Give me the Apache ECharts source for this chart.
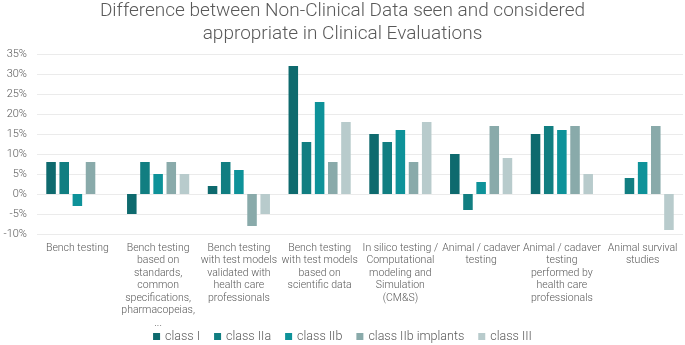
<!DOCTYPE html>
<html>
<head>
<meta charset="utf-8">
<script src="https://cdn.jsdelivr.net/npm/echarts@6/dist/echarts.min.js"></script>
<style>
  html, body { margin: 0; padding: 0; background: #fff; }
  #chart { width: 685px; height: 345px; }
</style>
</head>
<body>
<div id="chart"></div>
<script>
var categories = [
  'Bench testing',
  'Bench testing\nbased on\nstandards,\ncommon\nspecifications,\npharmacopeias,\n...',
  'Bench testing\nwith test models\nvalidated with\nhealth care\nprofessionals',
  'Bench testing\nwith test models\nbased on\nscientific data',
  'In silico testing /\nComputational\nmodeling and\nSimulation\n(CM&S)',
  'Animal / cadaver\ntesting',
  'Animal / cadaver\ntesting\nperformed by\nhealth care\nprofessionals',
  'Animal survival\nstudies'
];
var seriesNames = ['class I', 'class IIa', 'class IIb', 'class IIb implants', 'class III'];
var classI = [8, -5, 2, 32, 15, 10, 15, null];
var classIIa = [8, 8, 8, 13, 13, -4, 17, 4];
var classIIb = [-3, 5, 6, 23, 16, 3, 16, 8];
var classIIbImplants = [8, 8, -8, 8, 8, 17, 17, 17];
var classIII = [null, 5, -5, 18, 18, 9, 5, -9];
var colors = ['#0e6a6e', '#117e81', '#0e9299', '#89aaaa', '#b8cbcc'];

var chart = echarts.init(document.getElementById('chart'), null, { renderer: 'canvas' });
var font = 'Roboto';
var textColor = '#595959';

var data = [classI, classIIa, classIIb, classIIbImplants, classIII];
var series = seriesNames.map(function (name, i) {
  return {
    name: name,
    type: 'bar',
    data: data[i],
    barGap: '38%',
    barCategoryGap: '23%',
    itemStyle: { color: colors[i] }
  };
});

chart.setOption({
  animation: false,
  color: colors,
  title: {
    text: 'Difference between Non-Clinical Data seen and considered\nappropriate in Clinical Evaluations',
    left: 'center',
    top: -5,
    textStyle: {
      fontFamily: font,
      fontWeight: 300,
      fontSize: 19,
      lineHeight: 23,
      color: textColor
    }
  },
  legend: {
    top: 330,
    left: 'center',
    padding: 0,
    itemWidth: 7,
    itemHeight: 7,
    itemGap: 14,
    icon: 'rect',
    textStyle: { fontFamily: font, fontWeight: 300, fontSize: 12.5, color: textColor },
    data: seriesNames
  },
  grid: { left: 37, right: 2, top: 54, bottom: 111, containLabel: false },
  xAxis: {
    type: 'category',
    data: categories,
    axisLine: { show: false, onZero: false },
    axisTick: { show: false },
    axisLabel: {
      interval: 0,
      margin: 8,
      fontFamily: font,
      fontWeight: 300,
      fontSize: 10.5,
      lineHeight: 12.5,
      color: textColor
    }
  },
  yAxis: {
    type: 'value',
    min: -10,
    max: 35,
    interval: 5,
    axisLine: { show: false },
    axisTick: { show: false },
    axisLabel: {
      formatter: '{value}%',
      margin: 10,
      fontFamily: font,
      fontWeight: 300,
      fontSize: 11,
      color: textColor
    },
    splitLine: { lineStyle: { color: '#ebebeb', width: 1 } }
  },
  series: series
});
</script>
</body>
</html>
